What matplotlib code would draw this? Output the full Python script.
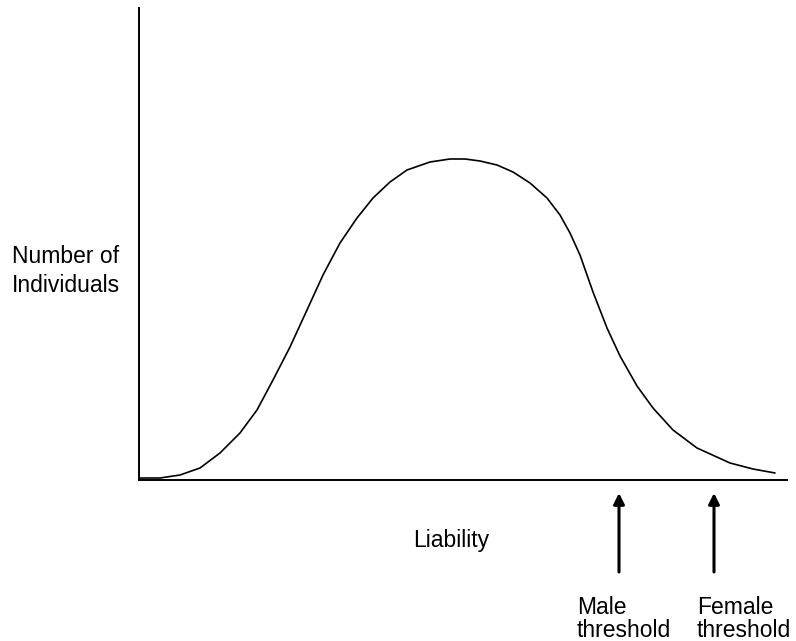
import matplotlib.pyplot as plt
import numpy as np

plt.rcParams['font.family'] = ['Liberation Sans', 'DejaVu Sans']

# liability scale (arbitrary units) and number of individuals at each point
liability = [1, 21, 41, 61, 81, 101, 118, 134, 151, 168, 184, 201, 218,
             234, 251, 268, 291, 311, 326, 341, 358, 374, 391, 408, 421,
             431, 441, 454, 468, 481, 498, 514, 534, 558, 591, 614, 636]
individuals = [2, 2, 5, 12, 27, 47, 70, 100, 133, 170, 205, 237, 262,
               282, 298, 310, 318, 321, 321, 319, 315, 308, 297, 282, 265,
               247, 225, 188, 152, 124, 94, 72, 50, 32, 17, 11, 7]

thresholds = [480, 575]
threshold_labels = ["Male\nthreshold", "Female\nthreshold"]
label_left = [438, 558]


def main():
    fig = plt.figure(figsize=(7.96, 6.41), dpi=100)
    ax = fig.add_axes([139/796, 1 - 480/641, 648/796, 472/641])

    ax.plot(liability, individuals, color='black', lw=1.2,
            solid_capstyle='round', solid_joinstyle='round')

    ax.set_xlim(0, 648)
    ax.set_ylim(0, 472)
    for side in ['top', 'right']:
        ax.spines[side].set_visible(False)
    for side in ['left', 'bottom']:
        ax.spines[side].set_linewidth(1.4)
    ax.set_xticks([])
    ax.set_yticks([])

    ax.text(-127, 209, "Number of\nIndividuals", fontsize=16.5, ha='left',
            va='center', linespacing=1.3)
    ax.text(312, -60, "Liability", fontsize=16.5, ha='center', va='center')

    for x, lab, lx in zip(thresholds, threshold_labels, label_left):
        ax.annotate("", xy=(x, -13), xytext=(x, -92),
                    arrowprops=dict(arrowstyle='-|>', color='black', lw=2.2,
                                    mutation_scale=16, shrinkA=0, shrinkB=0),
                    annotation_clip=False)
        ax.text(lx, -139, lab, fontsize=16.5, ha='left', va='center',
                linespacing=1.0)

    fig.savefig('out.png', dpi=100)


if __name__ == '__main__':
    main()
